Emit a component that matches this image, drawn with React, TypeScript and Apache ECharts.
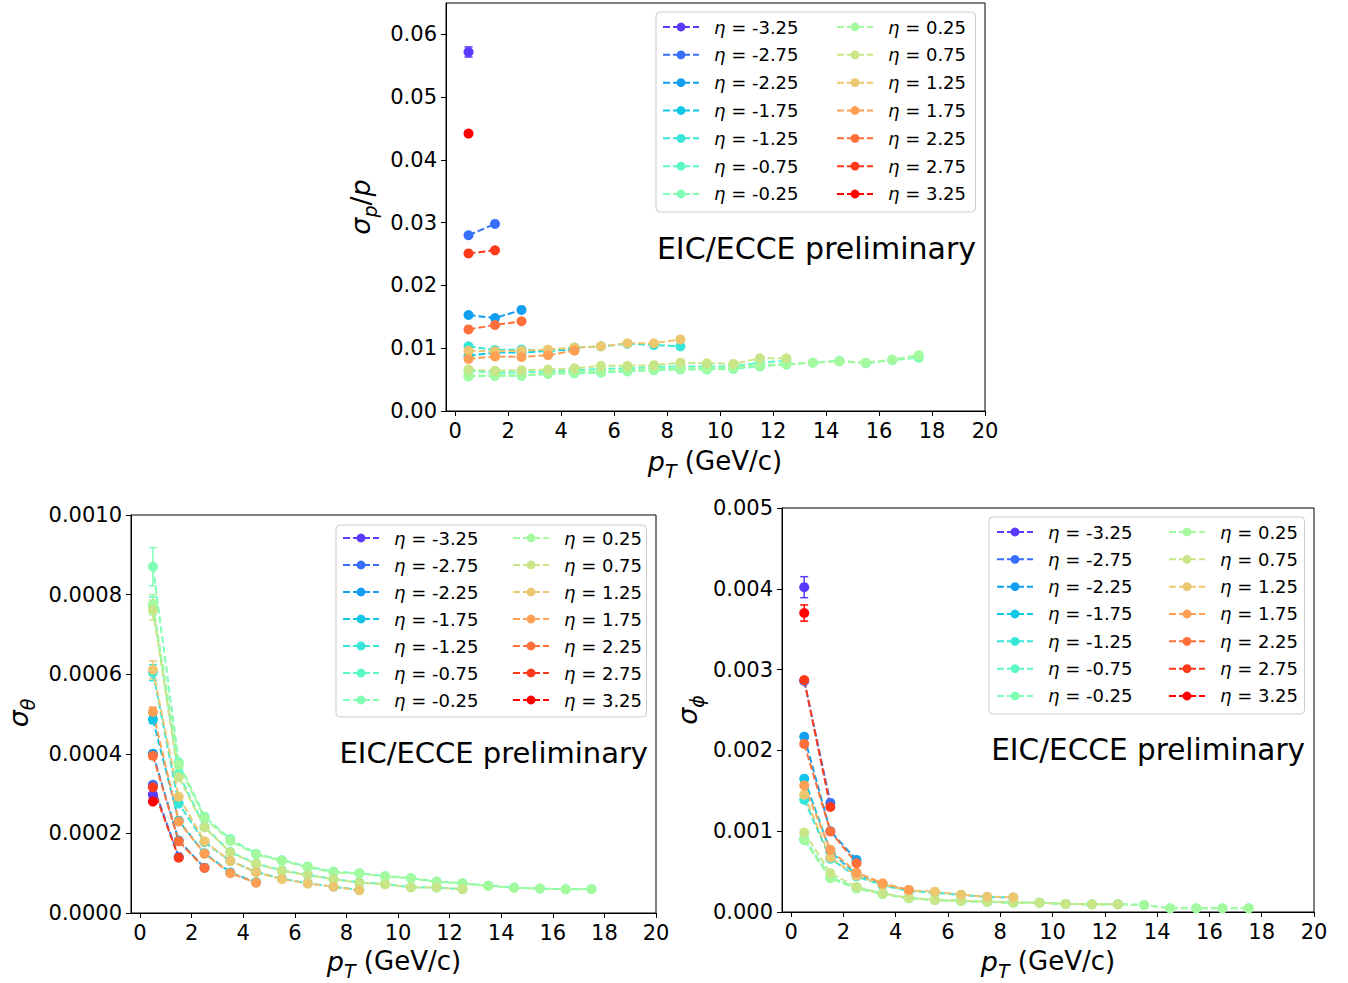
import React, { useEffect, useRef } from "react";
import * as echarts from "echarts";

// pT bin centres (GeV/c)
const PT = [0.5, 1.5, 2.5, 3.5, 4.5, 5.5, 6.5, 7.5, 8.5, 9.5, 10.5, 11.5, 12.5, 13.5, 14.5, 15.5, 16.5, 17.5];
const ETA = ["-3.25", "-2.75", "-2.25", "-1.75", "-1.25", "-0.75", "-0.25", "0.25", "0.75", "1.25", "1.75", "2.25", "2.75", "3.25"];
const COLORS = ["#5b39fd", "#376ff9", "#129ff1", "#12c7e6", "#37e6d8", "#5bf9c7", "#80ffb4", "#a4f99f", "#c8e688", "#edc76f", "#ff9f54", "#ff6f39", "#ff391c", "#ff0000"];

// sigma_p / p, one row per eta (same order as ETA)
const sigmaP = [
  [0.0572],
  [0.0280, 0.0298],
  [0.0153, 0.0148, 0.0161],
  [0.0088, 0.0093, 0.0093, 0.0096, 0.0098],
  [0.0103, 0.0097, 0.0098, 0.0096, 0.0101, 0.0103, 0.0107, 0.0105, 0.0103],
  [0.0064, 0.0061, 0.0062, 0.0063, 0.0065, 0.0067, 0.0068, 0.0070, 0.0071, 0.0071, 0.0071, 0.0077, 0.0080],
  [0.0055, 0.0056, 0.0056, 0.0059, 0.0060, 0.0061, 0.0063, 0.0065, 0.0066, 0.0066, 0.0067, 0.0071, 0.0074, 0.0077, 0.0080, 0.0076, 0.0081, 0.0085],
  [0.0056, 0.0057, 0.0057, 0.0060, 0.0062, 0.0063, 0.0065, 0.0067, 0.0068, 0.0068, 0.0069, 0.0073, 0.0075, 0.0077, 0.0079, 0.0077, 0.0082, 0.0089],
  [0.0066, 0.0064, 0.0065, 0.0066, 0.0068, 0.0072, 0.0072, 0.0073, 0.0077, 0.0076, 0.0075, 0.0084, 0.0084],
  [0.0096, 0.0095, 0.0096, 0.0098, 0.0101, 0.0103, 0.0108, 0.0108, 0.0114],
  [0.0083, 0.0087, 0.0086, 0.0089, 0.0096],
  [0.0130, 0.0137, 0.0143],
  [0.0251, 0.0256],
  [0.0442],
];
// error on the first pT bin, per eta
const sigmaPErr0 = [0.0008, 0, 0, 0, 0, 0, 0, 0, 0, 0, 0, 0, 0.0001, 0.0003];

// sigma_theta
const sigmaTheta = [
  [0.000297],
  [0.000322, 0.000141],
  [0.000400, 0.000182, 0.000114],
  [0.000486, 0.000232, 0.000150, 0.000102, 0.000077],
  [0.000604, 0.000275, 0.000178, 0.000131, 0.000103, 0.000086, 0.000075, 0.000066, 0.000058],
  [0.000772, 0.000350, 0.000217, 0.000153, 0.000124, 0.000107, 0.000096, 0.000085, 0.000077, 0.000073, 0.000065, 0.000064, 0.000060],
  [0.000870, 0.000379, 0.000242, 0.000186, 0.000149, 0.000133, 0.000117, 0.000104, 0.000100, 0.000093, 0.000088, 0.000079, 0.000075, 0.000069, 0.000064, 0.000061, 0.000060, 0.000060],
  [0.000775, 0.000372, 0.000238, 0.000181, 0.000147, 0.000131, 0.000115, 0.000102, 0.000099, 0.000092, 0.000087, 0.000078, 0.000074, 0.000068, 0.000063, 0.000062, 0.000059, 0.000060],
  [0.000761, 0.000341, 0.000215, 0.000152, 0.000123, 0.000106, 0.000095, 0.000085, 0.000076, 0.000072, 0.000064, 0.000064, 0.000060],
  [0.000611, 0.000292, 0.000180, 0.000131, 0.000102, 0.000085, 0.000074, 0.000066, 0.000057],
  [0.000505, 0.000230, 0.000149, 0.000100, 0.000076],
  [0.000395, 0.000180, 0.000113],
  [0.000316, 0.000139],
  [0.000280],
];
const sigmaThetaErr0 = [0.000005, 0.000006, 0.000008, 0.00001, 0.00002, 0.000022, 0.000048, 0.000025, 0.000025, 0.000022, 0.000012, 0.000008, 0.000006, 0.000005];

// sigma_phi
const sigmaPhi = [
  [0.00402],
  [0.00286, 0.00135],
  [0.00217, 0.00100, 0.000645],
  [0.00165, 0.00075, 0.00046, 0.00034, 0.00027],
  [0.00139, 0.00066, 0.00044, 0.00033, 0.00026, 0.00024, 0.00021, 0.000185, 0.00018],
  [0.00091, 0.00043, 0.00030, 0.00023, 0.00017, 0.00015, 0.000136, 0.000128, 0.000116, 0.000116, 0.00010, 0.000096, 0.000096],
  [0.00089, 0.00042, 0.00029, 0.000222, 0.00017, 0.000149, 0.000136, 0.000128, 0.000116, 0.000116, 0.000099, 0.000096, 0.000096, 0.000087, 0.000046, 0.000046, 0.000046, 0.000046],
  [0.000895, 0.000418, 0.000294, 0.000223, 0.00017, 0.00015, 0.000136, 0.000128, 0.000116, 0.000115, 0.0001, 0.000095, 0.000095, 0.000087, 0.000045, 0.000045, 0.000045, 0.000045],
  [0.000984, 0.00048, 0.00031, 0.000232, 0.000175, 0.00015, 0.000138, 0.00013, 0.000118, 0.000116, 0.0000993, 0.0000955, 0.0000955],
  [0.001452, 0.000674, 0.00045, 0.00034, 0.000268, 0.000252, 0.000215, 0.00019, 0.000182],
  [0.001567, 0.000769, 0.000488, 0.000356, 0.000273],
  [0.00208, 0.000997, 0.000604],
  [0.00287, 0.00130],
  [0.00370],
];
const sigmaPhiErr0 = [0.00013, 0.00002, 0, 0, 0, 0, 0, 0, 0, 0, 0, 0, 0.00002, 0.0001];

const X_TICKS = [0, 2, 4, 6, 8, 10, 12, 14, 16, 18, 20];
const P_TICKS = [0, 0.01, 0.02, 0.03, 0.04, 0.05, 0.06];
const THETA_TICKS = [0, 0.0002, 0.0004, 0.0006, 0.0008, 0.001];
const PHI_TICKS = [0, 0.001, 0.002, 0.003, 0.004, 0.005];

const FONT = "DejaVu Sans";

export default function App() {
  const ref = useRef<HTMLDivElement>(null);

  useEffect(() => {
    if (!ref.current) return;
    const chart = echarts.init(ref.current, undefined, { renderer: "svg" });

    const panels = [
      { data: sigmaP, err: sigmaPErr0, max: 0.065, ticks: P_TICKS, digits: 2, grid: { left: 446, top: 3, width: 539, height: 408 } },
      { data: sigmaTheta, err: sigmaThetaErr0, max: 0.001, ticks: THETA_TICKS, digits: 4, grid: { left: 131, top: 515, width: 525, height: 398 } },
      { data: sigmaPhi, err: sigmaPhiErr0, max: 0.005, ticks: PHI_TICKS, digits: 3, grid: { left: 782, top: 508, width: 532, height: 404 } },
    ];

    const names = ETA.map((e) => `η = ${e}`);

    const grid = panels.map((p) => ({
      ...p.grid,
      show: true,
      borderColor: "#000",
      borderWidth: 1,
      backgroundColor: "transparent",
      containLabel: false,
    }));

    const axisCommon = {
      type: "value",
      axisLine: { show: true, onZero: false, lineStyle: { color: "#000", width: 1 } },
      axisTick: { show: true, inside: false, length: 5, lineStyle: { color: "#000", width: 1 } },
      splitLine: { show: false },
    };

    const xAxis = panels.map((p, i) => ({
      ...axisCommon,
      gridIndex: i,
      min: -0.35,
      max: 20,
      axisTick: { ...axisCommon.axisTick, customValues: X_TICKS },
      axisLabel: { customValues: X_TICKS, fontSize: 21, fontFamily: FONT, color: "#000", margin: 9, formatter: (v: number) => String(v) },
    }));

    const yAxis = panels.map((p, i) => ({
      ...axisCommon,
      gridIndex: i,
      min: 0,
      max: p.max,
      axisTick: { ...axisCommon.axisTick, customValues: p.ticks },
      axisLabel: { customValues: p.ticks, fontSize: 21, fontFamily: FONT, color: "#000", margin: 9, formatter: (v: number) => v.toFixed(p.digits) },
    }));

    const series: any[] = [];
    panels.forEach((p, pi) => {
      const errData: any[] = [];
      p.data.forEach((vals, ei) => {
        series.push({
          type: "line",
          name: names[ei],
          xAxisIndex: pi,
          yAxisIndex: pi,
          data: vals.map((v, j) => [PT[j], v]),
          symbol: "circle",
          symbolSize: 10,
          showSymbol: true,
          showAllSymbol: true,
          lineStyle: { color: COLORS[ei], width: 2, type: [7, 3] },
          itemStyle: { color: COLORS[ei] },
          emphasis: { disabled: true },
          silent: true,
          z: 2,
        });
        if (p.err[ei] > 0) errData.push([PT[0], vals[0], p.err[ei], ei]);
      });
      series.push({
        type: "custom",
        name: `err${pi}`,
        xAxisIndex: pi,
        yAxisIndex: pi,
        data: errData,
        encode: { x: 0, y: 1 },
        silent: true,
        z: 1,
        renderItem: (params: any, api: any) => {
          const x = api.value(0);
          const y = api.value(1);
          const e = api.value(2);
          const c = COLORS[api.value(3)];
          const t = api.coord([x, y + e]);
          const b = api.coord([x, y - e]);
          const st = { stroke: c, lineWidth: 1.5 };
          return {
            type: "group",
            children: [
              { type: "line", shape: { x1: t[0], y1: t[1], x2: b[0], y2: b[1] }, style: st },
              { type: "line", shape: { x1: t[0] - 4, y1: t[1], x2: t[0] + 4, y2: t[1] }, style: st },
              { type: "line", shape: { x1: b[0] - 4, y1: b[1], x2: b[0] + 4, y2: b[1] }, style: st },
            ],
          };
        },
      });
    });

    const legendText = {
      fontSize: 18,
      fontFamily: FONT,
      color: "#000",
      lineHeight: 18,
      rich: {
        i: { fontStyle: "italic", fontSize: 18, fontFamily: FONT, color: "#000", padding: [0, 0, 0, 10] },
        n: { fontSize: 18, fontFamily: FONT, color: "#000" },
      },
    };
    const legendFmt = (name: string) => `{i|η}{n|${name.slice(1)}}`;
    const legendBase = {
      orient: "vertical",
      itemWidth: 36,
      itemHeight: 11,
      selectedMode: false,
      textStyle: legendText,
      formatter: legendFmt,
    };
    const legendBoxes = [
      { left: 656, top: 12, gap: 9.83, pad: [6, 177, 9, 6], col2: [836, 18] },
      { left: 336, top: 525, gap: 9, pad: [4, 168, 8, 6], col2: [512, 529] },
      { left: 989, top: 517, gap: 9.33, pad: [6, 172, 9, 7], col2: [1168, 523] },
    ];
    const legend: any[] = [];
    legendBoxes.forEach((lb) => {
      legend.push({
        ...legendBase,
        left: lb.left,
        top: lb.top,
        itemGap: lb.gap,
        padding: lb.pad,
        data: names.slice(0, 7),
        backgroundColor: "rgba(255,255,255,0.8)",
        borderColor: "#cccccc",
        borderWidth: 1,
        borderRadius: 4,
      });
      legend.push({
        ...legendBase,
        left: lb.col2[0],
        top: lb.col2[1],
        itemGap: lb.gap,
        padding: 0,
        data: names.slice(7),
      });
    });

    const mathRich = {
      g: { fontSize: 27, fontStyle: "italic", fontFamily: FONT, fill: "#000", verticalAlign: "top" },
      u: { fontSize: 27, fontFamily: FONT, fill: "#000", verticalAlign: "top" },
      s: { fontSize: 19, fontStyle: "italic", fontFamily: FONT, fill: "#000", verticalAlign: "top", padding: [14, 0, 0, 0] },
      n: { fontSize: 26, fontFamily: FONT, fill: "#000", verticalAlign: "top" },
    };
    const label = (x: number, y: number, text: string, rotate: boolean) => ({
      type: "text",
      x,
      y,
      rotation: rotate ? Math.PI / 2 : 0,
      style: {
        text,
        rich: mathRich,
        fill: "#000",
        font: `26px ${FONT}`,
        align: "center",
        verticalAlign: "middle",
        textAlign: "center",
        textVerticalAlign: "middle",
      },
      silent: true,
    });
    const tag = (x: number, y: number, size: number) => ({
      type: "text",
      x,
      y,
      style: {
        text: "EIC/ECCE preliminary",
        fill: "#000",
        fontSize: size,
        fontFamily: FONT,
        align: "right",
        verticalAlign: "middle",
        textAlign: "right",
        textVerticalAlign: "middle",
      },
      silent: true,
    });

    const xl = "{g|p}{s|T}{n| (GeV/c)}";
    const graphic = [
      label(715, 464, xl, false),
      label(394, 964, xl, false),
      label(1048, 964, xl, false),
      label(363, 207, "{g|σ}{s|p}{u|/}{g|p}", true),
      label(21, 713, "{g|σ}{s|θ}", true),
      label(690, 710, "{g|σ}{s|ϕ}", true),
      tag(976, 248, 30),
      tag(648, 753, 29),
      tag(1305, 750, 29.5),
    ];

    chart.setOption({
      animation: false,
      backgroundColor: "#fff",
      textStyle: { fontFamily: FONT },
      grid,
      xAxis,
      yAxis,
      legend,
      series,
      graphic,
    });

    return () => chart.dispose();
  }, []);

  return (
    <div
      ref={ref}
      style={{ position: "absolute", left: 0, top: 0, width: 1348, height: 983, background: "#fff" }}
    />
  );
}
